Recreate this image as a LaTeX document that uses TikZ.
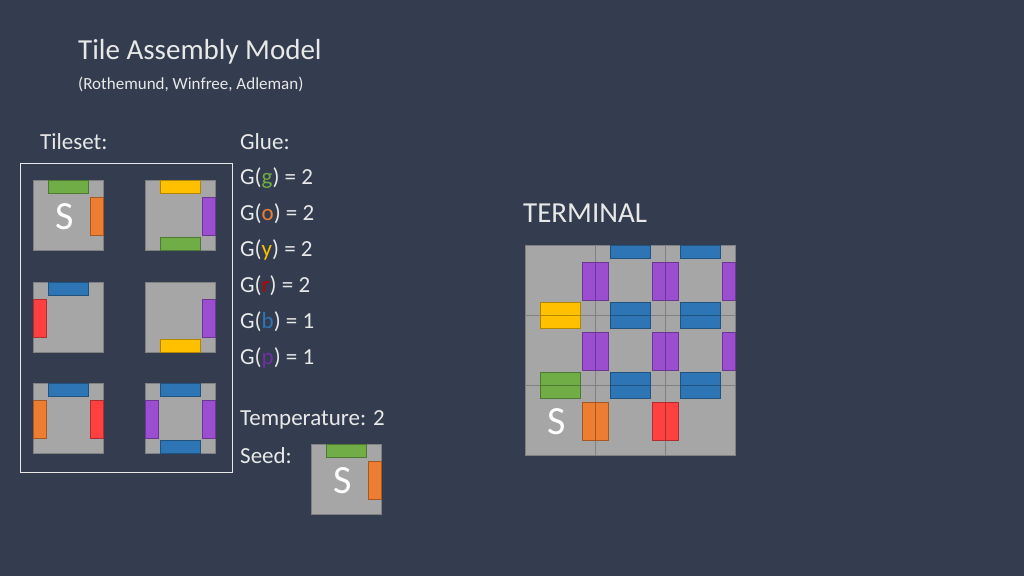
\documentclass[tikz,border=0pt]{standalone}
\usepackage{fontspec}
\setmainfont{Carlito}
\usetikzlibrary{calc}
\definecolor{bg}{HTML}{333D4F}
\definecolor{tg}{HTML}{A6A6A6}
\definecolor{tb}{HTML}{808080}
\definecolor{cg}{HTML}{70AD47}
\definecolor{co}{HTML}{ED7D31}
\definecolor{cy}{HTML}{FFC000}
\definecolor{cp}{HTML}{9B4FD0}
\definecolor{cb}{HTML}{2E75B6}
\definecolor{cr}{HTML}{FF4040}
\definecolor{txt}{HTML}{E8E8E8}
\definecolor{dr}{HTML}{C00000}
\definecolor{dp}{HTML}{7030A0}
\newcommand\tile[3]{\node[tilebox] (#1) at (#2+35,#3+35) {};}
\newcommand\gN[2]{\fill[#2,draw=#2!70!black,line width=0.6pt] ($(#1.north west)+(15,0)$) rectangle +(40,13);}
\newcommand\gS[2]{\fill[#2,draw=#2!70!black,line width=0.6pt] ($(#1.south west)+(15,-13)$) rectangle +(40,13);}
\newcommand\gE[2]{\fill[#2,draw=#2!70!black,line width=0.6pt] ($(#1.north east)+(-13,17)$) rectangle +(13,38);}
\newcommand\gW[2]{\fill[#2,draw=#2!70!black,line width=0.6pt] ($(#1.north west)+(0,17)$) rectangle +(13,38);}
\newcommand\sd[1]{\node[seedS] at ($(#1.center)+(-3,2)$) {S};}
\begin{document}
\begin{tikzpicture}[x=1pt,y=-1pt,
  tilebox/.style={draw=tb,fill=tg,line width=0.8pt,minimum size=70pt,inner sep=0pt,outer sep=0pt},
  seedS/.style={text=white,font=\fontsize{40}{40}\selectfont,inner sep=0pt},
  lab/.style={text=txt,anchor=west,inner sep=0pt,font=\fontsize{23}{23}\selectfont}]
\fill[bg] (0,0) rectangle (1024,576);
\useasboundingbox (0,0) rectangle (1024,576);
\node[lab,font=\fontsize{29}{29}\selectfont] (title) at (78,52) {Tile Assembly Model};
\node[lab,font=\fontsize{17}{17}\selectfont] (sub) at (78,84) {(Rothemund, Winfree, Adleman)};
\node[lab] (ts) at (40,142) {Tileset:};
\node[lab] (gl) at (240,142) {Glue:};
\node[lab] (g1) at (240,178) {G(\textcolor{cg}{g}) = 2};
\node[lab] (g2) at (240,214) {G(\textcolor{co}{o}) = 2};
\node[lab] (g3) at (240,250) {G(\textcolor{cy}{y}) = 2};
\node[lab] (g4) at (240,286) {G(\textcolor{dr}{r}) = 2};
\node[lab] (g5) at (240,322) {G(\textcolor{cb}{b}) = 1};
\node[lab] (g6) at (240,358) {G(\textcolor{dp}{p}) = 1};
\node[lab] (temp) at (240,420) {Temperature: 2};
\node[lab] (seed) at (240,456) {Seed:};
\node[lab,font=\fontsize{29}{29}\selectfont] (term) at (523,213) {TERMINAL};
\node[draw=txt,line width=0.8pt,minimum width=212pt,minimum height=309pt,inner sep=0pt] (box) at (126,317.5) {};
% tileset
\tile{a}{33}{180}\gN{a}{cg}\gE{a}{co}\sd{a}
\tile{b}{145}{180}\gN{b}{cy}\gE{b}{cp}\gS{b}{cg}
\tile{c}{33}{282}\gN{c}{cb}\gW{c}{cr}
\tile{d}{145}{282}\gE{d}{cp}\gS{d}{cy}
\tile{e}{33}{383}\gN{e}{cb}\gW{e}{co}\gE{e}{cr}
\tile{f}{145}{383}\gN{f}{cb}\gW{f}{cp}\gE{f}{cp}\gS{f}{cb}
% seed
\tile{s}{311}{444}\gN{s}{cg}\gE{s}{co}\sd{s}
% terminal
\tile{t00}{525}{245}\gE{t00}{cp}\gS{t00}{cy}
\tile{t01}{595}{245}\gN{t01}{cb}\gW{t01}{cp}\gE{t01}{cp}\gS{t01}{cb}
\tile{t02}{665}{245}\gN{t02}{cb}\gW{t02}{cp}\gE{t02}{cp}\gS{t02}{cb}
\tile{t10}{525}{315}\gN{t10}{cy}\gE{t10}{cp}\gS{t10}{cg}
\tile{t11}{595}{315}\gN{t11}{cb}\gW{t11}{cp}\gE{t11}{cp}\gS{t11}{cb}
\tile{t12}{665}{315}\gN{t12}{cb}\gW{t12}{cp}\gE{t12}{cp}\gS{t12}{cb}
\tile{t20}{525}{385}\gN{t20}{cg}\gE{t20}{co}\sd{t20}
\tile{t21}{595}{385}\gN{t21}{cb}\gW{t21}{co}\gE{t21}{cr}
\tile{t22}{665}{385}\gN{t22}{cb}\gW{t22}{cr}
\end{tikzpicture}
\end{document}
